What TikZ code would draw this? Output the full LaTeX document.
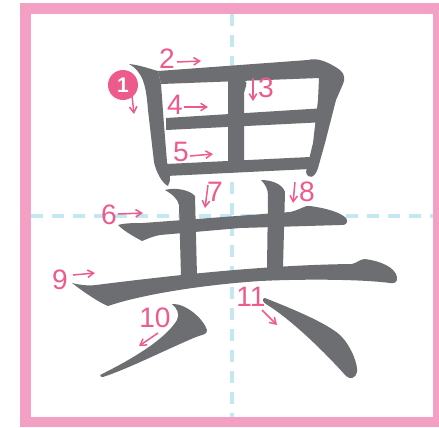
\documentclass[tikz,border=0pt]{standalone}
\usepackage{fontspec}
\setmainfont{Liberation Sans}
\usetikzlibrary{arrows.meta}
\definecolor{FramePink}{RGB}{244,160,196}
\definecolor{HintPink}{RGB}{236,91,140}
\definecolor{GuideCyan}{RGB}{197,232,240}
\definecolor{InkGray}{RGB}{109,110,113}
\tikzset{
  >=Latex,
  brush/.style={fill=InkGray,draw=none},
  guide/.style={draw=GuideCyan,line width=1.9pt,dash pattern=on .24cm off .18cm},
  num/.style={text=HintPink,font=\fontsize{16}{18}\selectfont,inner sep=0pt},
  first/.style={circle,fill=HintPink,text=white,font=\bfseries\fontsize{12}{14}\selectfont,minimum size=.6cm,inner sep=0pt},
  hint/.style={-{Straight Barb[length=1.2mm,width=1.5mm]},line width=.85pt,draw=HintPink}
}
\begin{document}
\begin{tikzpicture}[x=.02cm,y=-.02cm]
  \useasboundingbox (0,0) rectangle (439,427);
  \fill[FramePink] (20,3) rectangle (439,427);
  \fill[white] (31,14) rectangle (433,417);
  \draw[guide] (232,14) -- (232,417);
  \draw[guide] (31,216) -- (433,216);

  \fill[brush] (129,64) .. controls (140,65) and (150,69) .. (158,71) -- (161,84) -- (164,125) -- (167,162)
    .. controls (169,172) and (172,180) .. (168,186) .. controls (162,183) and (156,172) .. (154,162)
    -- (148,110) .. controls (146,85) and (143,72) .. (129,64) -- cycle;
  \fill[brush] (158,71) -- (308,60) .. controls (318,57) and (330,63) .. (340,70)
    .. controls (345,74) and (345,80) .. (343,84) -- (336,100) -- (325,143) -- (318,168)
    .. controls (315,178) and (308,180) .. (306,172) -- (313,143) -- (318,100) -- (319,78) -- (161,84) -- cycle;
  \fill[brush] (228,78) -- (238,76) .. controls (244,79) and (248,82) .. (246,86) -- (244,93) -- (244,162) -- (228,163) -- cycle;
  \fill[brush] (166,118) -- (326,108) -- (326,122) -- (166,130) -- cycle;
  \fill[brush] (166,164) -- (310,157) -- (310,169) -- (166,176) -- cycle;
  \fill[brush] (118,225) .. controls (125,223) and (135,223) .. (143,223) -- (290,212)
    .. controls (300,210) and (305,205) .. (310,206) .. controls (325,208) and (340,212) .. (346,218)
    .. controls (349,222) and (346,226) .. (340,225) -- (240,228) -- (160,235)
    .. controls (150,237) and (145,240) .. (142,241) .. controls (135,237) and (125,232) .. (118,225) -- cycle;
  \fill[brush] (165,190) .. controls (175,187) and (190,190) .. (195,196) -- (197,276) -- (181,276)
    -- (179,205) .. controls (178,199) and (172,194) .. (165,190) -- cycle;
  \fill[brush] (261,180) .. controls (270,180) and (282,183) .. (285,192) -- (283,268) -- (267,268)
    -- (268,195) .. controls (268,189) and (265,184) .. (261,180) -- cycle;
  \fill[brush] (72,283) .. controls (80,285) and (88,286) .. (96,285) .. controls (160,277) and (260,265) .. (352,264)
    .. controls (357,263) and (360,259) .. (365,259) .. controls (380,261) and (395,267) .. (397,277)
    .. controls (398,282) and (394,284) .. (390,283) .. controls (360,279) and (300,279) .. (260,281)
    .. controls (200,285) and (140,295) .. (108,306) .. controls (100,303) and (85,293) .. (72,283) -- cycle;
  \fill[brush] (172,304) .. controls (185,303) and (203,318) .. (207,330) .. controls (208,335) and (200,335) .. (196,337)
    .. controls (165,350) and (130,368) .. (103,377) .. controls (100,377) and (99,375) .. (102,374)
    .. controls (130,360) and (165,340) .. (177,320) .. controls (180,314) and (177,308) .. (172,304) -- cycle;
  \fill[brush] (265,298) .. controls (290,308) and (325,322) .. (340,335) .. controls (352,347) and (358,365) .. (357,372)
    .. controls (356,378) and (350,380) .. (346,376) .. controls (330,358) and (295,322) .. (266,304)
    .. controls (262,302) and (262,298) .. (265,298) -- cycle;

  \node[first] (n1) at (123,85) {1};
  \node[num] (n2) at (167,59) {2};
  \node[num] (n3) at (266,88) {3};
  \node[num] (n4) at (175,105) {4};
  \node[num] (n5) at (181,152) {5};
  \node[num] (n6) at (109,215) {6};
  \node[num] (n7) at (215,192) {7};
  \node[num] (n8) at (307,192) {8};
  \node[num] (n9) at (60,280) {9};
  \node[num] (n10) at (155,318) {10};
  \node[num] (n11) at (251,297) {11};

  \coordinate (a1s) at (132,96);  \coordinate (a1e) at (134,114);
  \coordinate (a2s) at (177,62);  \coordinate (a2e) at (201,61);
  \coordinate (a3s) at (253,78);  \coordinate (a3e) at (253,101);
  \coordinate (a4s) at (184,107); \coordinate (a4e) at (208,107);
  \coordinate (a5s) at (190,156); \coordinate (a5e) at (213,154);
  \coordinate (a6s) at (118,214); \coordinate (a6e) at (143,213);
  \coordinate (a7s) at (208,185); \coordinate (a7e) at (205,208);
  \coordinate (a8s) at (295,182); \coordinate (a8e) at (293,203);
  \coordinate (a9s) at (73,275);  \coordinate (a9e) at (95,273);
  \coordinate (a10s) at (158,333); \coordinate (a10e) at (139,346);
  \coordinate (a11s) at (262,310); \coordinate (a11e) at (277,325);
  \foreach \k in {1,...,11}
    \draw[hint] (a\k s) -- (a\k e);
\end{tikzpicture}
\end{document}
